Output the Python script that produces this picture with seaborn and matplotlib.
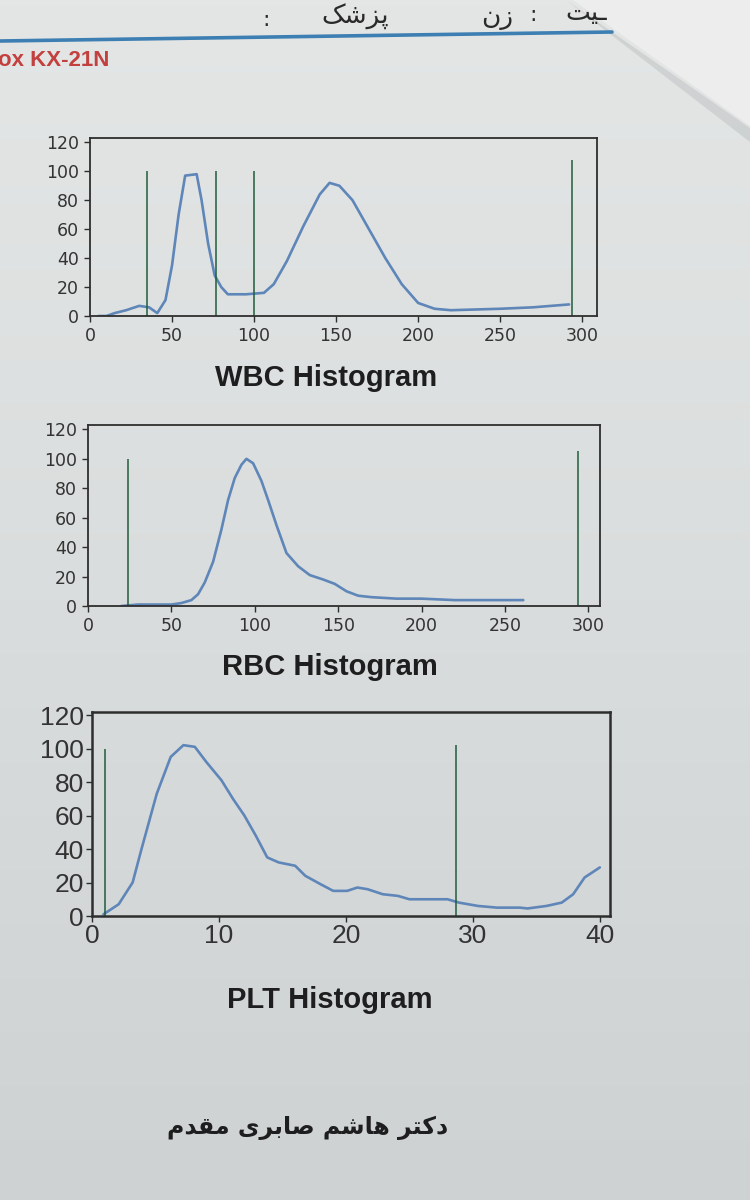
import numpy as np
import pandas as pd
import matplotlib
matplotlib.use("Agg")
import matplotlib.pyplot as plt
from matplotlib.patches import Polygon
from matplotlib.lines import Line2D
import seaborn as sns

# ---- data ----
wbc_x = [5, 10, 15, 22, 30, 36, 41, 46, 50, 54, 58, 65, 68, 72, 76, 80, 84, 95, 106, 112,
         120, 130, 140, 146, 152, 160, 170, 180, 190, 200, 210, 220, 250, 270, 292]
wbc_y = [0, 0, 2, 4, 7, 6, 2, 11, 35, 70, 97, 98, 80, 50, 28, 20, 15, 15, 16, 22,
         38, 62, 84, 92, 90, 80, 60, 40, 22, 9, 5, 4, 5, 6, 8]
wbc_marks = [35, 77, 100, 294]
wbc_mark_h = [100, 100, 100, 108]

rbc_x = [20, 30, 40, 50, 56, 62, 66, 70, 75, 80, 84, 88, 92, 95, 99, 104, 108, 113, 119,
         126, 133, 141, 148, 155, 162, 170, 185, 200, 220, 240, 261]
rbc_y = [0, 1, 1, 1, 2, 4, 8, 16, 30, 52, 72, 87, 96, 100, 97, 85, 72, 55, 36,
         27, 21, 18, 15, 10, 7, 6, 5, 5, 4, 4, 4]
rbc_marks = [24, 294]
rbc_mark_h = [100, 105]

plt_x = [0.9, 2.1, 3.2, 3.9, 5.1, 6.2, 7.2, 8.1, 9.0, 10.2, 11.1, 12.0, 12.9, 13.8, 14.7,
         16.0, 16.8, 18.0, 19.0, 20.1, 20.9, 21.7, 22.9, 24.1, 25.0, 28.0, 28.9, 30.4,
         31.9, 33.7, 34.3, 35.8, 37.0, 37.9, 38.8, 40.0]
plt_y = [1, 7, 20, 40, 73, 95, 102, 101, 92, 81, 70, 60, 48, 35, 32,
         30, 24, 19, 15, 15, 17, 16, 13, 12, 10, 10, 8, 6,
         5, 5, 4.5, 6, 8, 13, 23, 29]
plt_marks = [1.05, 28.7]
plt_mark_h = [100, 102]

titles = ["WBC Histogram", "RBC Histogram", "PLT Histogram"]
doctor = "دکتر هاشم صابری مقدم"
header_words = ["پزشک", "زن", "ـيت"]
model_text = "ox KX-21N"

# ---- simple Persian shaping (presentation forms, visual order) ----
FORMS = {
    'ا': ('\uFE8D', '\uFE8E', None, None),
    'د': ('\uFEA9', '\uFEAA', None, None),
    'ر': ('\uFEAD', '\uFEAE', None, None),
    'ز': ('\uFEAF', '\uFEB0', None, None),
    'ب': ('\uFE8F', '\uFE90', '\uFE91', '\uFE92'),
    'پ': ('\uFB56', '\uFB57', '\uFB58', '\uFB59'),
    'ت': ('\uFE95', '\uFE96', '\uFE97', '\uFE98'),
    'ش': ('\uFEB5', '\uFEB6', '\uFEB7', '\uFEB8'),
    'ص': ('\uFEB9', '\uFEBA', '\uFEBB', '\uFEBC'),
    'ق': ('\uFED5', '\uFED6', '\uFED7', '\uFED8'),
    'ک': ('\uFB8E', '\uFB8F', '\uFB90', '\uFB91'),
    'م': ('\uFEE1', '\uFEE2', '\uFEE3', '\uFEE4'),
    'ن': ('\uFEE5', '\uFEE6', '\uFEE7', '\uFEE8'),
    'ه': ('\uFEE9', '\uFEEA', '\uFEEB', '\uFEEC'),
    'ی': ('\uFBFC', '\uFBFD', '\uFBFE', '\uFBFF'),
    'ي': ('\uFEF1', '\uFEF2', '\uFEF3', '\uFEF4'),
    'ـ': ('ـ', 'ـ', 'ـ', 'ـ'),
}


def shape(s):
    out = []
    for i, c in enumerate(s):
        if c not in FORMS:
            out.append(c)
            continue
        prev = s[i - 1] if i > 0 else ''
        nxt = s[i + 1] if i + 1 < len(s) else ''
        jp = prev in FORMS and FORMS[prev][2] is not None
        jn = nxt in FORMS and FORMS[c][2] is not None
        iso, fin, ini, med = FORMS[c]
        if jp and jn:
            out.append(med)
        elif jp:
            out.append(fin)
        elif jn:
            out.append(ini)
        else:
            out.append(iso)
    return ''.join(reversed(out))


sns.set_theme(style="white")
plt.rcParams['font.family'] = ['Liberation Sans', 'DejaVu Sans']

W, H = 750, 1200
fig = plt.figure(figsize=(7.5, 12), dpi=100)


def fx(x):
    return x / W


def fy(y):
    return 1 - y / H


# paper background with a little shading
bg = fig.add_axes([0, 0, 1, 1], zorder=-10)
grad = np.linspace(0, 1, 200).reshape(-1, 1)
cmap = matplotlib.colors.LinearSegmentedColormap.from_list("paper", ["#e4e6e6", "#dadddd", "#cfd2d3"])
bg.imshow(grad, aspect='auto', cmap=cmap, extent=[0, 1, 0, 1], origin='upper')
bg.set_axis_off()

# folded corner of the sheet
fig.add_artist(Polygon([(fx(566), fy(0)), (fx(750), fy(128)), (fx(750), fy(142))],
                       closed=True, transform=fig.transFigure, color="#b9bcbd", alpha=0.45, lw=0))
fig.add_artist(Polygon([(fx(573), fy(0)), (fx(750), fy(0)), (fx(750), fy(126))],
                       closed=True, transform=fig.transFigure, color="#ededed", lw=0))

# header
fig.add_artist(Line2D([fx(0), fx(612)], [fy(41), fy(32)], transform=fig.transFigure,
                      color="#3d7fb2", lw=2.6))
fig.text(fx(266), fy(20), ":", fontsize=16, color="#2a2a2a", ha='center', va='center',
         family='DejaVu Sans')
fig.text(fx(355), fy(17), shape(header_words[0]), fontsize=19, color="#2a2a2a",
         ha='center', va='center', family='DejaVu Sans')
fig.text(fx(497), fy(17), shape(header_words[1]), fontsize=19, color="#2a2a2a",
         ha='center', va='center', family='DejaVu Sans')
fig.text(fx(533), fy(15), ":", fontsize=16, color="#2a2a2a", ha='center', va='center',
         family='DejaVu Sans')
fig.text(fx(586), fy(13), shape(header_words[2]), fontsize=19, color="#2a2a2a",
         ha='center', va='center', family='DejaVu Sans')
fig.text(fx(-2), fy(61), model_text, fontsize=16, color="#c2413f", fontweight='bold',
         ha='left', va='center', family='Liberation Sans')


def px_axes(left, top, right, bottom):
    return fig.add_axes([fx(left), fy(bottom), (right - left) / W, (bottom - top) / H])


def draw_hist(ax, xs, ys, marks, mark_h, xlim, ylim, xticks, tick_size, tick_font, frame_w, pad):
    df = pd.DataFrame({"x": xs, "y": ys})
    sns.lineplot(data=df, x="x", y="y", ax=ax, color="#5f86b8", lw=1.9, sort=False)
    ax.vlines(marks, 0, mark_h, color="#1f5e3c", lw=1.1)
    ax.set_xlim(*xlim)
    ax.set_ylim(*ylim)
    ax.set_xticks(xticks)
    ax.set_yticks(range(0, 121, 20))
    ax.set_xlabel("")
    ax.set_ylabel("")
    ax.set_facecolor("none")
    for sp in ax.spines.values():
        sp.set_visible(True)
        sp.set_color("#2e2e2e")
        sp.set_linewidth(frame_w)
    ax.tick_params(axis='both', direction='out', length=4, width=1, color="#2e2e2e",
                   labelsize=tick_size, labelcolor="#333333", pad=pad,
                   bottom=True, left=True)
    for lab in ax.get_xticklabels() + ax.get_yticklabels():
        lab.set_family(tick_font)


ax1 = px_axes(90, 138, 597, 316)
draw_hist(ax1, wbc_x, wbc_y, wbc_marks, wbc_mark_h, (0, 309), (0, 123),
          range(0, 301, 50), 12.5, 'DejaVu Sans', 1.3, 4)
ax2 = px_axes(88, 425, 600, 606)
draw_hist(ax2, rbc_x, rbc_y, rbc_marks, rbc_mark_h, (0, 307), (0, 123),
          range(0, 301, 50), 12.5, 'DejaVu Sans', 1.3, 4)
ax3 = px_axes(92, 712, 610, 916)
draw_hist(ax3, plt_x, plt_y, plt_marks, plt_mark_h, (0, 40.8), (0, 121.8),
          range(0, 41, 10), 19, 'Liberation Sans', 1.8, 2)

fig.text(fx(326), fy(378), titles[0], fontsize=21, fontweight='bold', color="#1e1e1e",
         ha='center', va='center')
fig.text(fx(330), fy(667), titles[1], fontsize=21, fontweight='bold', color="#1e1e1e",
         ha='center', va='center')
fig.text(fx(330), fy(1000), titles[2], fontsize=21, fontweight='bold', color="#1e1e1e",
         ha='center', va='center')

fig.text(fx(308), fy(1128), shape(doctor), fontsize=17, fontweight='bold', color="#1e1e1e",
         ha='center', va='center', family='DejaVu Sans')

fig.savefig("out.png", dpi=100)
